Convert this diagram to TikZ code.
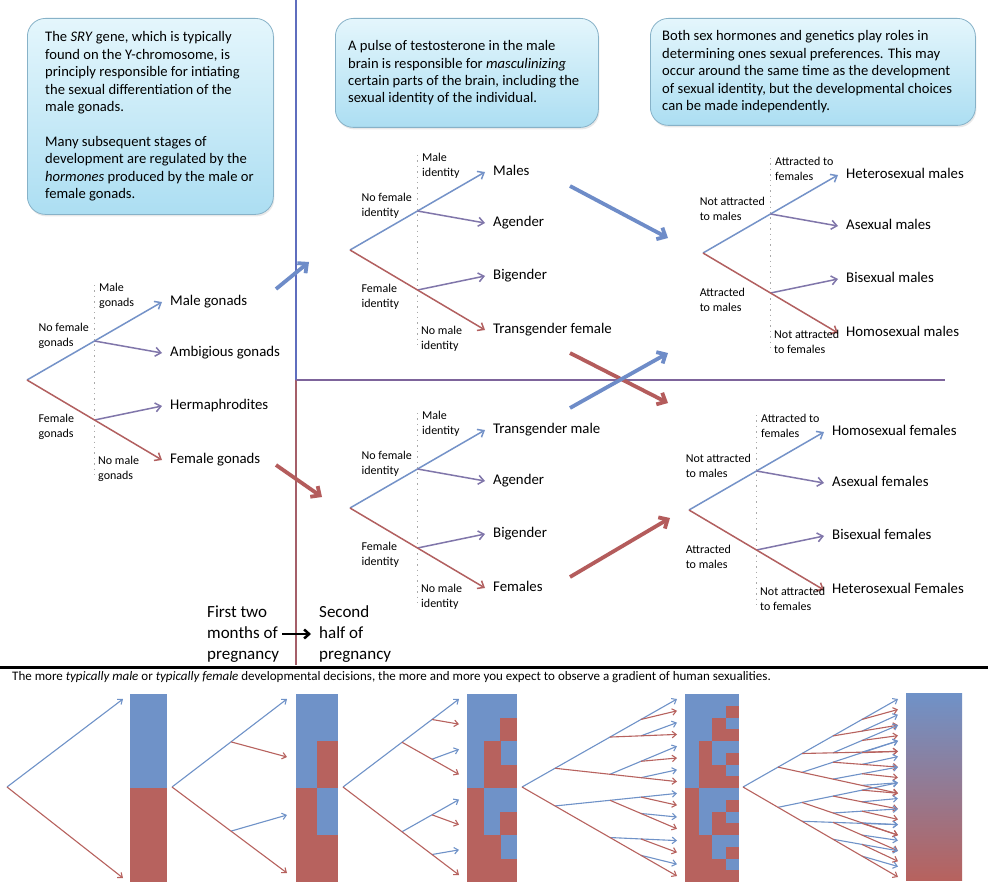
\documentclass[tikz,border=0pt]{standalone}
\usepackage{fontspec}
\setmainfont{Carlito}
\usetikzlibrary{arrows.meta,calc,shadows}

\definecolor{tblue}{RGB}{116,146,200}
\definecolor{tred}{RGB}{178,96,96}
\definecolor{tpurp}{RGB}{128,118,170}
\definecolor{bblue}{RGB}{111,146,200}
\definecolor{bred}{RGB}{183,98,94}
\definecolor{vblue}{RGB}{95,110,190}
\definecolor{vred}{RGB}{165,95,105}
\definecolor{hpurp}{RGB}{125,100,155}
\definecolor{boxtop}{RGB}{228,246,252}
\definecolor{boxbot}{RGB}{172,222,242}
\definecolor{boxline}{RGB}{135,178,200}
\definecolor{dotgray}{RGB}{170,170,170}
\definecolor{fatblue}{RGB}{110,140,200}
\definecolor{fatred}{RGB}{180,92,92}

\tikzset{
  infobox/.style={draw=boxline, line width=0.8pt, rounded corners=18pt,
    top color=boxtop, bottom color=boxbot, anchor=north west,
    drop shadow={opacity=0.18, shadow xshift=1pt, shadow yshift=-2pt}},
  boxtext/.style={align=left, inner sep=0pt, anchor=west,
    font=\fontsize{14.6}{17.4}\selectfont},
  outlab/.style={anchor=west, inner sep=0pt, text height=7.5pt, text depth=0pt,
    font=\fontsize{14.8}{17}\selectfont},
  smlab/.style={align=left, inner sep=0pt, font=\fontsize{12}{14.6}\selectfont},
  dotline/.style={dotgray, line width=1.3pt, dash pattern=on 1.4pt off 4pt},
  tarr/.style={line width=1.5pt, -{Straight Barb[length=5.5pt,width=9pt]}},
  fatarr/.style={line width=3.8pt, -{Straight Barb[length=7pt,width=13pt]}},
  bl/.style={line width=1.1pt},
  bt/.style={line width=1.1pt, -{Straight Barb[length=4pt,width=6.5pt]}},
  preg/.style={align=left, inner sep=0pt, font=\fontsize{17}{21}\selectfont},
}

% four-outcome decision tree (local coordinates, root at origin)
\newcommand\fourtree[9]{%
  \coordinate (#1r) at (0,0);
  \node[outlab] (#1o1) at (143,-78) {#2};
  \node[outlab] (#1o2) at (143,-27) {#3};
  \node[outlab] (#1o3) at (143,26) {#4};
  \node[outlab] (#1o4) at (143,80) {#5};
  \coordinate (#1su) at ($(#1r)!0.5!([xshift=-8pt]#1o1.west)$);
  \coordinate (#1sl) at ($(#1r)!0.5!([xshift=-8pt]#1o4.west)$);
  \coordinate (#1dt) at (67.5,-95);
  \coordinate (#1db) at (67.5,97);
  \draw[dotline] (#1dt) -- (#1db);
  \draw[tarr, tblue] (#1r) -- ([xshift=-8pt]#1o1.west);
  \draw[tarr, tpurp] (#1su) -- ([xshift=-8pt]#1o2.west);
  \draw[tarr, tpurp] (#1sl) -- ([xshift=-8pt]#1o3.west);
  \draw[tarr, tred] (#1r) -- ([xshift=-8pt]#1o4.west);
  \node[smlab, anchor=west] (#1ur) at (72,-84) {#6};
  \node[smlab, anchor=east] (#1ul) at (62,-44) {#7};
  \coordinate (#1llpos) at (0,47);
  \node[smlab, anchor=west] (#1ll) at (#1ul.west |- #1llpos) {#8};
  \node[smlab, anchor=west] (#1lr) at (71,89) {#9};
}

% binary branching tree for the bottom panels
% #1 name, #2 levels, #3 x per depth, #4 weights, #5 tail sums, #6 ytop, #7 ybot
\newcommand\mktree[7]{%
  \expandafter\gdef\csname sc#1-0-0\endcsname{0}%
  \foreach \trd in {1,...,#2}{%
    \pgfmathtruncatemacro\trdm{\trd-1}%
    \pgfmathtruncatemacro\trkmax{2^\trd-1}%
    \pgfmathsetmacro\trxq{{#3}[\trdm]}%
    \pgfmathsetmacro\trxd{{#3}[\trd]}%
    \pgfmathsetmacro\trxn{{#3}[#2]}%
    \pgfmathsetmacro\trff{(\trxd-\trxq)/(\trxn-\trxq)}%
    \pgfmathsetmacro\trwd{{#4}[\trdm]}%
    \pgfmathsetmacro\trtd{{#5}[\trd]}%
    \pgfmathsetmacro\trtot{{#5}[0]}%
    \foreach \trk in {0,...,\trkmax}{%
      \pgfmathtruncatemacro\trkp{floor(\trk/2)}%
      \pgfmathtruncatemacro\trcc{mod(\trk,2)}%
      \pgfmathsetmacro\trps{\csname sc#1-\trdm-\trkp\endcsname+\trcc*\trwd}%
      \expandafter\xdef\csname sc#1-\trd-\trk\endcsname{\trps}%
      \pgfmathsetmacro\tryl{#6+(\trps+\trcc*\trtd)/\trtot*(#7-#6)}%
      \coordinate (#1-\trd-\trk) at ($(#1-\trdm-\trkp)!\trff!(\trxn,\tryl)$);
      \ifnum\trd=#2\relax
        \ifnum\trcc=0 \draw[bt, bblue] (#1-\trdm-\trkp) -- (#1-\trd-\trk);
        \else \draw[bt, bred] (#1-\trdm-\trkp) -- (#1-\trd-\trk); \fi
      \else
        \ifnum\trcc=0 \draw[bl, bblue] (#1-\trdm-\trkp) -- (#1-\trd-\trk);
        \else \draw[bl, bred] (#1-\trdm-\trkp) -- (#1-\trd-\trk); \fi
      \fi
    }%
  }%
}

% checkered bar: #1 columns, #2 x0, #3 x1
\newcommand\mkbar[3]{%
  \fill[bblue] (#2,694) rectangle (#3,882);
  \pgfmathtruncatemacro\brmax{2^#1-1}%
  \pgfmathsetmacro\bcw{(#3-#2)/#1}%
  \pgfmathsetmacro\brh{188/2^#1}%
  \foreach \bcj in {1,...,#1}{%
    \foreach \bcr in {0,...,\brmax}{%
      \pgfmathtruncatemacro\bbit{mod(floor(\bcr/(2^(#1-\bcj))),2)}%
      \ifnum\bbit=1
        \pgfmathsetmacro\bxa{#2+(\bcj-1)*\bcw}%
        \pgfmathsetmacro\bxb{min(\bxa+\bcw+0.4,#3)}%
        \pgfmathsetmacro\bya{694+\bcr*\brh}%
        \pgfmathsetmacro\byb{min(\bya+\brh+0.4,882)}%
        \fill[bred] (\bxa,\bya) rectangle (\bxb,\byb);
      \fi
    }%
  }%
}

\begin{document}
\begin{tikzpicture}[x=1pt,y=-1pt]
\useasboundingbox (0,0) rectangle (988,888);
\fill[white] (0,0) rectangle (988,888);

% info boxes
\node[infobox, minimum width=246pt, minimum height=196pt] (box1) at (27,18) {};
\node[boxtext] (box1t) at ([xshift=18pt]box1.west) {The \textit{SRY} gene, which is typically\\
found on the Y-chromosome, is\\
principly responsible for intiating\\
the sexual differentiation of the\\
male gonads.\\[17.4pt]
Many subsequent stages of\\
development are regulated by the\\
\textit{hormones} produced by the male or\\
female gonads.};

\node[infobox, minimum width=263pt, minimum height=109pt] (box2) at (335,18) {};
\node[boxtext] (box2t) at ([xshift=13pt]box2.west) {A pulse of testosterone in the male\\
brain is responsible for \textit{masculinizing}\\
certain parts of the brain, including the\\
sexual identity of the individual.};

\node[infobox, minimum width=325pt, minimum height=107pt] (box3) at (650,18) {};
\node[boxtext] (box3t) at ([xshift=12pt]box3.west) {Both sex hormones and genetics play roles in\\
determining ones sexual preferences. This may\\
occur around the same time as the development\\
of sexual identity, but the developmental choices\\
can be made independently.};

% dividers
\coordinate (vtop) at (296,0);
\coordinate (vmid) at (296,380);
\coordinate (vbot) at (296,665);
\coordinate (hend) at (945,380);
\draw[vblue, line width=1.3pt] (vtop) -- (vmid);
\draw[vred, line width=1.3pt] (vmid) -- (vbot);
\draw[hpurp, line width=1.3pt] (vmid) -- (hend);

% trees
\begin{scope}[shift={(27,380)}]
\fourtree{ga}{Male gonads}{Ambigious gonads}{Hermaphrodites}{Female gonads}{Male\\gonads}{No female\\gonads}{Female\\gonads}{No male\\gonads}
\end{scope}
\begin{scope}[shift={(350,250)}]
\fourtree{ia}{Males}{Agender}{Bigender}{Transgender female}{Male\\identity}{No female\\identity}{Female\\identity}{No male\\identity}
\end{scope}
\begin{scope}[shift={(350,508)}]
\fourtree{ib}{Transgender male}{Agender}{Bigender}{Females}{Male\\identity}{No female\\identity}{Female\\identity}{No male\\identity}
\end{scope}
\begin{scope}[shift={(703,253)}]
\fourtree{sa}{Heterosexual males}{Asexual males}{Bisexual males}{Homosexual males}{Attracted to\\females}{Not attracted\\to males}{Attracted\\to males}{Not attracted\\to females}
\end{scope}
\begin{scope}[shift={(689,510)}]
\fourtree{sb}{Homosexual females}{Asexual females}{Bisexual females}{Heterosexual Females}{Attracted to\\females}{Not attracted\\to males}{Attracted\\to males}{Not attracted\\to females}
\end{scope}

% thick stage arrows
\coordinate (a1s) at (276,289); \coordinate (a1e) at (309,262);
\coordinate (a2s) at (276,465); \coordinate (a2e) at (322,497);
\coordinate (a3s) at (570,186); \coordinate (a3e) at (668,238);
\coordinate (a4s) at (570,353); \coordinate (a4e) at (668,403);
\coordinate (a5s) at (570,408); \coordinate (a5e) at (668,353);
\coordinate (a6s) at (570,577); \coordinate (a6e) at (670,518);
\draw[fatarr, fatblue] (a1s) -- (a1e);
\draw[fatarr, fatred] (a2s) -- (a2e);
\draw[fatarr, fatblue] (a3s) -- (a3e);
\draw[fatarr, fatred] (a4s) -- (a4e);
\draw[fatarr, fatblue] (a5s) -- (a5e);
\draw[fatarr, fatred] (a6s) -- (a6e);

% pregnancy timing
\node[preg, anchor=west] (first) at (207,634) {First two\\months of\\pregnancy};
\node[preg, anchor=west] (second) at (319,634) {Second\\half of\\pregnancy};
\draw[line width=2.5pt, -{Straight Barb[length=5pt,width=9pt]}] ([xshift=3pt]first.east) -- ([xshift=-8pt]second.west);

% separator and caption
\coordinate (sepl) at (0,667); \coordinate (sepr) at (988,667);
\draw[line width=3pt] (sepl) -- (sepr);
\node[anchor=west, inner sep=0pt, font=\fontsize{13}{15}\selectfont] (cap) at (12,677) {The more \textit{typically male} or \textit{typically female} developmental decisions, the more and more you expect to observe a gradient of human sexualities.};

% bottom panels
\coordinate (P1-0-0) at (7,787);
\mktree{P1}{1}{7,123}{1,0}{1,0}{699}{878}
\coordinate (P2-0-0) at (172,787);
\mktree{P2}{2}{172,231,287}{2,1}{3,1,0}{699}{873}
\coordinate (P3-0-0) at (343,787);
\mktree{P3}{3}{343,402,432,459}{4,2,1}{7,3,1,0}{699}{875}
\coordinate (P4-0-0) at (522,787);
\mktree{P4}{4}{522,555,610,641,677}{8,4,2,1}{15,7,3,1,0}{699}{876}
\coordinate (P5-0-0) at (743,787);
\mktree{P5}{5}{743,778,802,833,862,898}{16,8,5,3,2}{34,18,10,5,2,0}{699}{877}

\mkbar{1}{130}{167}
\mkbar{2}{296}{338}
\mkbar{3}{467}{517}
\mkbar{4}{685}{739}
\shade[top color=bblue, bottom color=bred] (906,693) rectangle (962,880);
\end{tikzpicture}
\end{document}
